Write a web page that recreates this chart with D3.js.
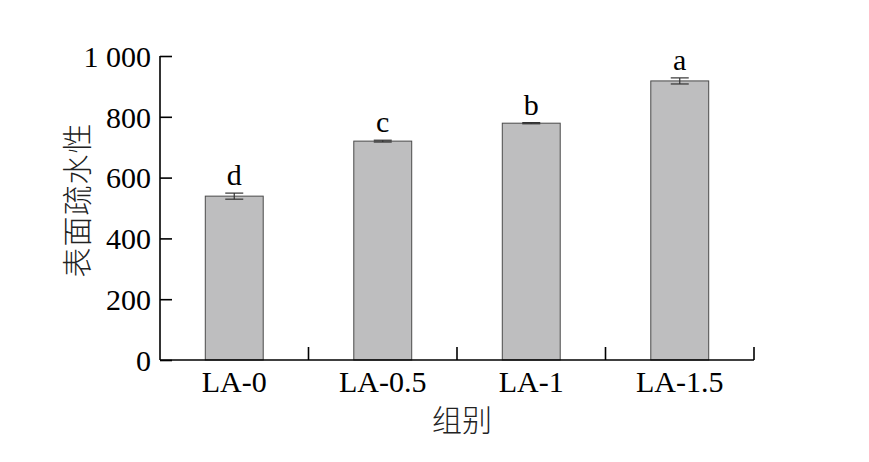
<!DOCTYPE html>
<html>
<head>
<meta charset="utf-8">
<script src="https://cdn.jsdelivr.net/npm/d3@7"></script>
<style>
html,body{margin:0;padding:0;background:#fff;}
svg{display:block;}
</style>
</head>
<body>
<svg id="chart" width="869" height="462"></svg>
<script>
const categories = ["LA-0", "LA-0.5", "LA-1", "LA-1.5"];
const values = [539, 720, 779, 918];
const errors = [10, 3, 2, 10];
const letters = ["d", "c", "b", "a"];
const yTicks = [0, 200, 400, 600, 800, 1000];
const yTickLabels = ["0", "200", "400", "600", "800", "1 000"];
const yTitle = "表面疏水性";
const xTitle = "组别";

const svg = d3.select("#chart");
const serif = "'Liberation Serif','Times New Roman',serif";
const cjk = "'Noto Sans CJK SC','Noto Sans CJK JP',sans-serif";

const x0 = 160, x1 = 754, yTop = 56, yBot = 360;
const pi = 0.61;
const x = d3.scaleBand().domain(categories).range([x0, x1]).paddingInner(pi).paddingOuter(pi / 2);
const y = d3.scaleLinear().domain([0, 1000]).range([yBot, yTop]);

// bars
svg.append("g").selectAll("rect").data(categories).join("rect")
  .attr("x", d => x(d))
  .attr("y", (d, i) => y(values[i]))
  .attr("width", x.bandwidth())
  .attr("height", (d, i) => y(0) - y(values[i]))
  .attr("fill", "#bebebf")
  .attr("stroke", "#4a4a4a")
  .attr("stroke-width", 1);

// error bars
const eg = svg.append("g").attr("stroke", "#333").attr("stroke-width", 1.2);
categories.forEach((c, i) => {
  const cx = x(c) + x.bandwidth() / 2;
  const hi = y(values[i] + errors[i]), lo = y(values[i] - errors[i]);
  eg.append("line").attr("x1", cx).attr("x2", cx).attr("y1", hi).attr("y2", lo);
  eg.append("line").attr("x1", cx - 9).attr("x2", cx + 9).attr("y1", hi).attr("y2", hi);
  eg.append("line").attr("x1", cx - 9).attr("x2", cx + 9).attr("y1", lo).attr("y2", lo);
});

// letters
svg.append("g").selectAll("text").data(categories).join("text")
  .attr("x", d => x(d) + x.bandwidth() / 2)
  .attr("y", (d, i) => y(values[i] + errors[i]) - 8)
  .attr("text-anchor", "middle")
  .attr("font-family", serif)
  .attr("font-size", 30)
  .attr("fill", "#000")
  .text((d, i) => letters[i]);

// y axis
const yAxis = d3.axisLeft(y).tickValues(yTicks).tickSize(-12).tickPadding(22)
  .tickFormat((d, i) => yTickLabels[i]);
const gy = svg.append("g").attr("transform", `translate(${x0},0)`).call(yAxis);
gy.select(".domain").attr("d", `M0,${yTop}V${yBot}`).attr("stroke", "#000").attr("stroke-width", 1.6);
gy.selectAll(".tick line").attr("stroke", "#000").attr("stroke-width", 1.6);
gy.selectAll(".tick text").attr("font-family", serif).attr("font-size", 30).attr("fill", "#000")
  .attr("x", -9).attr("dy", "0.34em");

// x axis
const xAxis = d3.axisBottom(x).tickSize(0).tickPadding(0);
const gx = svg.append("g").attr("transform", `translate(0,${yBot})`).call(xAxis);
gx.select(".domain").attr("d", `M${x0},0H${x1}`).attr("stroke", "#000").attr("stroke-width", 1.6);
gx.selectAll(".tick text").attr("font-family", serif).attr("font-size", 30).attr("fill", "#000")
  .attr("y", 32).attr("dy", 0);
// boundary ticks (pointing up)
const bounds = categories.map(c => x(c) + x.bandwidth() + x.step() * pi / 2);
gx.append("g").selectAll("line").data(bounds).join("line")
  .attr("x1", d => d).attr("x2", d => d).attr("y1", 0).attr("y2", -13)
  .attr("stroke", "#000").attr("stroke-width", 1.6);

// titles
svg.append("text")
  .attr("transform", `translate(88,${(yTop + yBot) / 2 - 8}) rotate(-90)`)
  .attr("text-anchor", "middle")
  .attr("font-family", cjk).attr("font-size", 30).attr("font-weight", 300).attr("fill", "#222")
  .attr("letter-spacing", 1)
  .text(yTitle);

svg.append("text")
  .attr("x", 462).attr("y", 431)
  .attr("text-anchor", "middle")
  .attr("font-family", cjk).attr("font-size", 30).attr("font-weight", 300).attr("fill", "#222")
  .text(xTitle);
</script>
</body>
</html>
